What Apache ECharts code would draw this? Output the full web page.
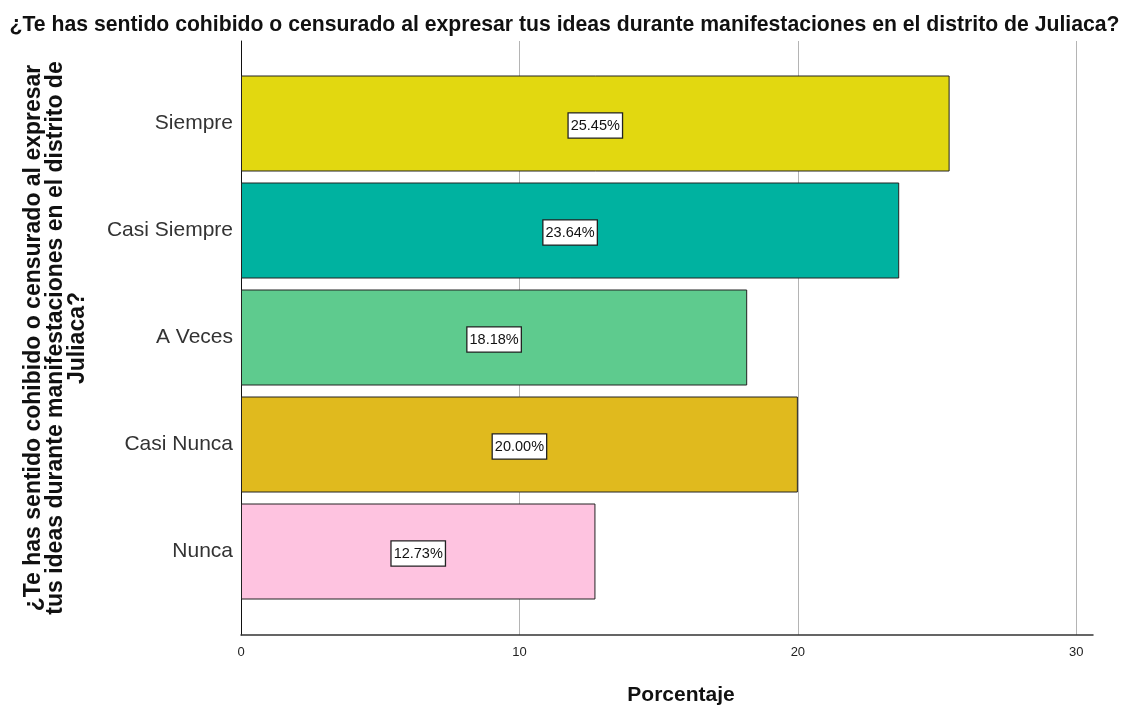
<!DOCTYPE html>
<html>
<head>
<meta charset="utf-8">
<script src="https://cdn.jsdelivr.net/npm/echarts@6/dist/echarts.min.js"></script>
<style>
  html, body { margin: 0; padding: 0; background: #fff; }
  #chart { width: 1129px; height: 711px; }
</style>
</head>
<body>
<div id="chart"></div>
<script>
// data
const categories = ['Siempre', 'Casi Siempre', 'A Veces', 'Casi Nunca', 'Nunca']
const percents = [25.45, 23.64, 18.18, 20.00, 12.73]
const barColors = ['#e2d810', '#00b2a0', '#5ecb8e', '#e0ba1e', '#fec3e0']
const xTicks = [0, 10, 20, 30]

const titleText = '¿Te has sentido cohibido o censurado al expresar tus ideas durante manifestaciones en el distrito de Juliaca?'
const yName = '¿Te has sentido cohibido o censurado al expresar\ntus ideas durante manifestaciones en el distrito de\nJuliaca?'

const font = 'Arial, "Liberation Sans", sans-serif'
const xMax = 30.6

const chart = echarts.init(document.getElementById('chart'), null, { renderer: 'canvas' })

chart.setOption({
  backgroundColor: '#fff',
  animation: false,
  title: {
    text: titleText,
    left: 'center',
    top: 10,
    textStyle: { fontFamily: font, fontWeight: 'bold', fontSize: 21.2, color: '#111' }
  },
  grid: [
    // frame: axis lines, gridlines, ticks
    { left: 241, right: 36, top: 41, bottom: 76, outerBoundsMode: 'none', containLabel: false },
    // bars (padded inside the frame)
    { left: 241, right: 36, top: 70, bottom: 106, outerBoundsMode: 'none', containLabel: false }
  ],
  xAxis: [{
    gridIndex: 0,
    type: 'value',
    min: 0,
    max: xMax,
    interval: 10,
    axisLine: { show: true, lineStyle: { color: '#333', width: 1.5 } },
    axisTick: { show: false },
    axisLabel: {
      margin: 11,
      fontFamily: font,
      fontSize: 13,
      color: '#222',
      customValues: xTicks
    },
    splitLine: { show: true, showMaxLine: false, showMinLine: false, lineStyle: { color: '#b4b4b4', width: 1 } },
    name: 'Porcentaje',
    nameLocation: 'middle',
    nameGap: 50,
    nameTextStyle: { fontFamily: font, fontWeight: 'bold', fontSize: 21, color: '#111', padding: [0, 0, 0, 28] }
  }, {
    gridIndex: 1,
    type: 'value',
    min: 0,
    max: xMax,
    show: false
  }],
  yAxis: [{
    gridIndex: 0,
    type: 'value',
    min: 0,
    max: 1,
    axisLine: { show: true, lineStyle: { color: '#111', width: 1 } },
    axisTick: { show: false },
    axisLabel: { show: false },
    splitLine: { show: false },
    name: yName,
    nameLocation: 'middle',
    nameGap: 152,
    nameRotate: 90,
    nameTextStyle: { fontFamily: font, fontWeight: 'bold', fontSize: 23, color: '#111', lineHeight: 22 }
  }, {
    gridIndex: 1,
    type: 'category',
    inverse: true,
    data: categories,
    axisLine: { show: false },
    axisTick: { show: false },
    axisLabel: { margin: 8, fontFamily: font, fontSize: 21, color: '#333' }
  }],
  series: [{
    type: 'bar',
    xAxisIndex: 1,
    yAxisIndex: 1,
    barWidth: 96,
    data: percents.map((v, i) => ({
      value: v,
      itemStyle: { color: barColors[i] }
    })),
    itemStyle: { borderColor: '#222', borderWidth: 1 },
    label: {
      show: true,
      position: 'inside',
      offset: [0, 2],
      formatter: p => p.value.toFixed(2) + '%',
      fontFamily: font,
      fontSize: 14.5,
      color: '#111',
      backgroundColor: '#fff',
      borderColor: '#222',
      borderWidth: 1.3,
      padding: [5, 2, 4, 2]
    }
  }]
})
</script>
</body>
</html>
